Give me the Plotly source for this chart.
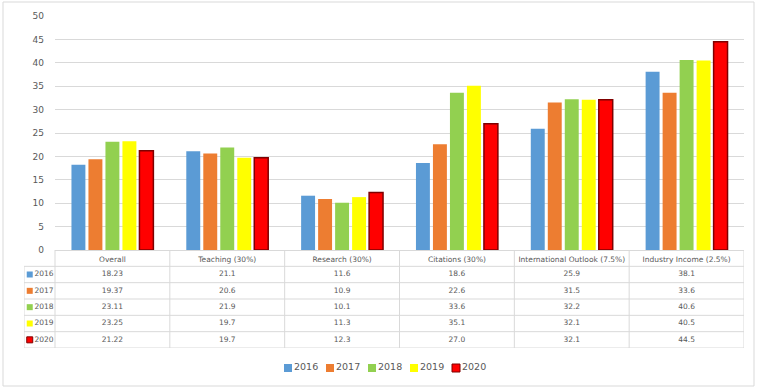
import plotly.graph_objects as go

categories = ["Overall", "Teaching (30%)", "Research (30%)", "Citations (30%)",
              "International Outlook (7.5%)", "Industry Income (2.5%)"]
decimals = [2, 1, 1, 1, 1, 1]
years = ["2016", "2017", "2018", "2019", "2020"]
v2016 = [18.23, 21.1, 11.6, 18.6, 25.9, 38.1]
v2017 = [19.37, 20.6, 10.9, 22.6, 31.5, 33.6]
v2018 = [23.11, 21.9, 10.1, 33.6, 32.2, 40.6]
v2019 = [23.25, 19.7, 11.3, 35.1, 32.1, 40.5]
v2020 = [21.22, 19.7, 12.3, 27.0, 32.1, 44.5]
series = [v2016, v2017, v2018, v2019, v2020]
colors = ["#5B9BD5", "#ED7D31", "#92D050", "#FFFF00", "#FF0000"]
edges = ["#5B9BD5", "#ED7D31", "#92D050", "#FFFF00", "#7F0000"]
edge_w = [0, 0, 0, 0, 1.5]

W, H = 762, 389
ml, mr, mt, mb = 24, 18, 16, 9
pw = W - ml - mr
ph = H - mt - mb
def py(pix):  # pixel row -> paper y
    return (H - mb - pix) / ph
def px(pix):
    return (pix - ml) / pw

grey = "#595959"
linec = "#D9D9D9"
FONT = "DejaVu Sans"
xs = list(range(len(categories)))
n = len(categories)
nrows = len(years) + 1

plot_left = 55
cat_px = (W - mr - plot_left) / n    # pixel width of one category
x2_min = -0.5 - (plot_left - ml) / cat_px

fig = go.Figure()
for yr, vals, c, e, lw in zip(years, series, colors, edges, edge_w):
    fig.add_trace(go.Bar(x=xs, y=vals, name=yr, marker=dict(color=c, line=dict(color=e, width=lw)),
                         showlegend=False, hoverinfo="y"))

# data table
for i, (yr, vals) in enumerate(zip(years, series)):
    fig.add_trace(go.Scatter(
        x=xs, y=[i + 1.5] * len(xs), xaxis="x2", yaxis="y2", mode="text",
        text=[f"{v:.{d}f}" for v, d in zip(vals, decimals)],
        textfont=dict(family=FONT, size=7.5, color=grey), showlegend=False, hoverinfo="skip"))
    fig.add_trace(go.Scatter(
        x=[x2_min + 0.05], y=[i + 1.5], xaxis="x2", yaxis="y2", mode="markers+text", text=[yr],
        textposition="middle right",
        marker=dict(symbol="square", size=6, color=colors[i], line=dict(color=edges[i], width=1 if i == 4 else 0)),
        textfont=dict(family=FONT, size=7.5, color=grey), showlegend=False, hoverinfo="skip"))

# legend (custom, through its own axes)
fig.add_trace(go.Scatter(
    x=list(range(len(years))), y=[0] * len(years), xaxis="x3", yaxis="y3",
    mode="markers+text", text=years, textposition="middle right",
    marker=dict(symbol="square", size=8, color=colors, line=dict(color=edges, width=[0, 0, 0, 0, 1])),
    textfont=dict(family=FONT, size=9.5, color=grey), cliponaxis=False,
    showlegend=False, hoverinfo="skip"))

shapes = []
# horizontal table lines
for r in range(1, nrows + 1):
    shapes.append(dict(type="line", xref="x2", yref="y2", x0=x2_min, x1=n - 0.5, y0=r, y1=r,
                       line=dict(color=linec, width=1)))
# vertical table lines
for k in range(n + 1):
    shapes.append(dict(type="line", xref="x2", yref="y2", x0=k - 0.5, x1=k - 0.5, y0=0, y1=nrows,
                       line=dict(color=linec, width=1)))
shapes.append(dict(type="line", xref="x2", yref="y2", x0=x2_min, x1=x2_min, y0=1, y1=nrows,
                   line=dict(color=linec, width=1)))
# outer border
shapes.append(dict(type="rect", xref="paper", yref="paper", x0=px(3), x1=px(754), y0=py(386), y1=py(2),
                   line=dict(color=linec, width=1), layer="below"))

main_bottom = py(250)
table_bottom = py(348)

fig.update_layout(
    width=W, height=H, margin=dict(l=ml, r=mr, t=mt, b=mb, autoexpand=False),
    paper_bgcolor="white", plot_bgcolor="white",
    barmode="group", bargap=0.26, bargroupgap=0.18,
    font=dict(family=FONT, size=9, color=grey),
    shapes=shapes,
    xaxis=dict(domain=[px(plot_left), 1], range=[-0.5, n - 0.5], tickvals=xs, ticktext=categories,
               showgrid=False, zeroline=False, showline=True, linecolor=linec, ticks="",
               ticklabelstandoff=2, automargin=False, tickfont=dict(size=7.5, color=grey), anchor="y"),
    yaxis=dict(domain=[main_bottom, 1], range=[0, 50], dtick=5, gridcolor=linec, zeroline=False,
               showline=False, ticklabelstandoff=10, automargin=False,
               tickfont=dict(size=9, color=grey)),
    xaxis2=dict(domain=[0, 1], range=[x2_min, n - 0.5], visible=False, anchor="y2"),
    yaxis2=dict(domain=[table_bottom, main_bottom], range=[nrows, 0], visible=False, anchor="x2"),
    xaxis3=dict(domain=[px(267), px(477)], range=[-0.5, len(years) - 0.5], visible=False, anchor="y3"),
    yaxis3=dict(domain=[py(376), py(360)], range=[-1, 1], visible=False, anchor="x3"),
)

fig.write_html("out.html", config={"displayModeBar": False},
               post_script="document.body.style.margin='0';")
